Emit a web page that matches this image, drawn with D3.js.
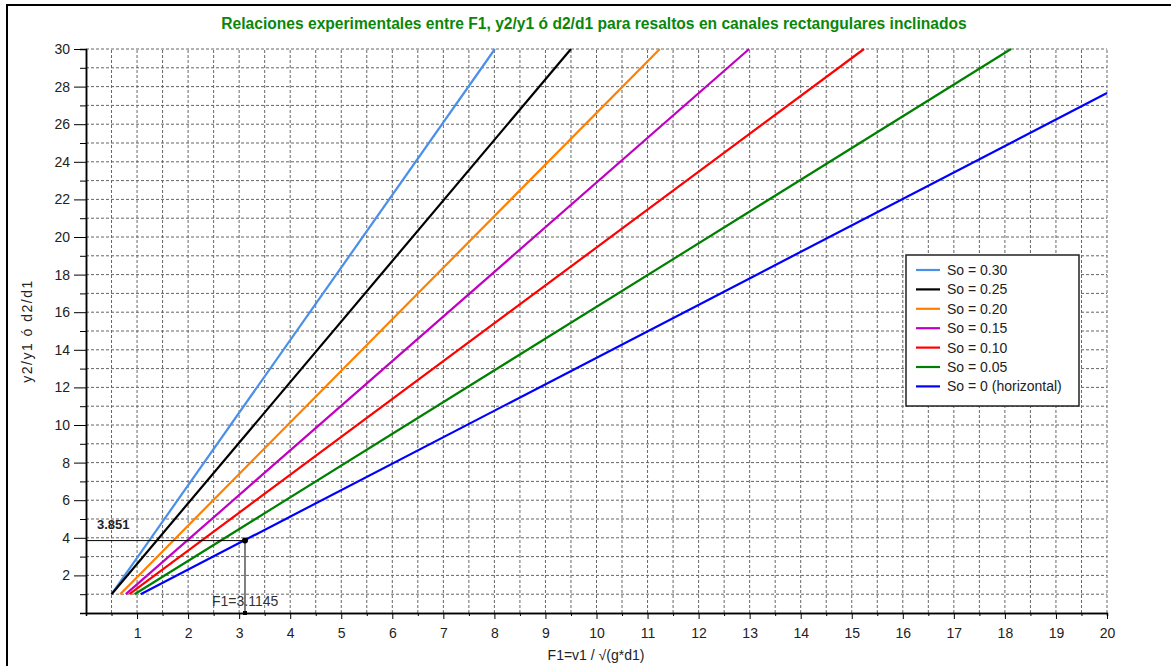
<!DOCTYPE html>
<html>
<head>
<meta charset="utf-8">
<script src="https://cdn.jsdelivr.net/npm/d3@7"></script>
<style>
  body { margin: 0; background: #fff; }
  svg text { font-family: "Liberation Sans Narrow", "Arial Narrow", "Liberation Sans", sans-serif; }
</style>
</head>
<body>
<svg id="chart"></svg>
<script>
// series: F1 start / end, y2/y1 start / end
var seriesNames = ["So = 0.30", "So = 0.25", "So = 0.20", "So = 0.15", "So = 0.10", "So = 0.05", "So = 0 (horizontal)"];
var seriesColors = ["#4a90e8", "#000000", "#ff8000", "#c000c0", "#ff0000", "#008000", "#0000ff"];
var f1Start = [0.50, 0.50, 0.67, 0.78, 0.85, 0.95, 1.07];
var f1End = [8.01, 9.50, 11.24, 12.99, 15.24, 18.12, 20.0];
var ratioStart = [1, 1, 1, 1, 1, 1, 1];
var ratioEnd = [30, 30, 30, 30, 30, 30, 27.66];
var xTicks = d3.range(1, 21);
var yTicks = d3.range(2, 31, 2);
var markF1 = 3.1145;
var markRatio = 3.851;

var screen = { width: 1171, height: 666 };
var margins = { top: 49, bottom: 53, left: 86, right: 64 };

var svg = d3.select('#chart')
  .attr('width', screen.width)
  .attr('height', screen.height);

var xScale = d3.scaleLinear().domain([0, 20]).range([margins.left, screen.width - margins.right]);
var yScale = d3.scaleLinear().domain([0, 30]).range([screen.height - margins.bottom, margins.top]);

// outer frame
svg.append('path')
  .attr('d', 'M7,' + screen.height + 'V5H' + screen.width)
  .attr('fill', 'none')
  .attr('stroke', '#000')
  .attr('stroke-width', 2);

// grid
var grid = svg.append('g');
var xGrid = d3.range(0.5, 20.01, 0.5);
var yGrid = d3.range(1, 30.01, 1);
grid.selectAll('.vg').data(xGrid).enter().append('line')
  .attr('x1', function(d) { return xScale(d); })
  .attr('x2', function(d) { return xScale(d); })
  .attr('y1', yScale(0)).attr('y2', yScale(30))
  .attr('stroke', '#666').attr('stroke-dasharray', '3,2');
grid.selectAll('.hg').data(yGrid).enter().append('line')
  .attr('y1', function(d) { return yScale(d); })
  .attr('y2', function(d) { return yScale(d); })
  .attr('x1', xScale(0)).attr('x2', xScale(20))
  .attr('stroke', '#666').attr('stroke-dasharray', '3,2');

// axes
var xAxis = d3.axisBottom(xScale).tickValues(xTicks).tickSize(6).tickSizeOuter(0).tickPadding(6);
var xMinor = d3.axisBottom(xScale).tickValues(d3.range(0.5, 20, 1)).tickSize(3).tickFormat('');
var yAxis = d3.axisLeft(yScale).tickValues(yTicks).tickSize(12).tickSizeOuter(0).tickPadding(4);
var yMinor = d3.axisLeft(yScale).tickValues(d3.range(1, 30, 2)).tickSize(6).tickFormat('');

svg.append('g').attr('transform', 'translate(0,' + yScale(0) + ')').call(xMinor);
svg.append('g').attr('transform', 'translate(' + xScale(0) + ',0)').call(yMinor);
var gx = svg.append('g').attr('transform', 'translate(0,' + yScale(0) + ')').call(xAxis);
var gy = svg.append('g').attr('transform', 'translate(' + xScale(0) + ',0)').call(yAxis);
svg.selectAll('.domain').attr('stroke', '#000').attr('stroke-width', 1.5);
svg.selectAll('.tick line').attr('stroke', '#000');
svg.selectAll('.tick text').attr('font-size', 14).attr('fill', '#222')
  .style('font-family', '"Liberation Sans Narrow", "Arial Narrow", sans-serif');
gx.selectAll('.tick text').attr('dy', '0.9em');

// lines
var lineGen = d3.line().x(function(d) { return xScale(d[0]); }).y(function(d) { return yScale(d[1]); });
seriesNames.forEach(function(name, i) {
  svg.append('path')
    .datum([[f1Start[i], ratioStart[i]], [f1End[i], ratioEnd[i]]])
    .attr('d', lineGen)
    .attr('fill', 'none')
    .attr('stroke', seriesColors[i])
    .attr('stroke-width', 2.2);
});

// marker lines
svg.append('line')
  .attr('x1', xScale(0)).attr('x2', xScale(markF1))
  .attr('y1', yScale(markRatio)).attr('y2', yScale(markRatio))
  .attr('stroke', '#000').attr('stroke-width', 1);
svg.append('line')
  .attr('x1', xScale(markF1)).attr('x2', xScale(markF1))
  .attr('y1', yScale(markRatio)).attr('y2', yScale(0))
  .attr('stroke', '#000').attr('stroke-width', 1);
svg.append('circle')
  .attr('cx', xScale(markF1)).attr('cy', yScale(markRatio)).attr('r', 3).attr('fill', '#000');
svg.append('rect')
  .attr('x', xScale(markF1) - 2).attr('y', yScale(0) - 2).attr('width', 4).attr('height', 4).attr('fill', '#000');
svg.append('text')
  .attr('x', 97).attr('y', yScale(markRatio) - 12)
  .attr('font-size', 13).attr('font-weight', 'bold').attr('fill', '#222')
  .text(markRatio);
svg.append('text')
  .attr('x', 212).attr('y', yScale(0) - 7)
  .attr('font-size', 14).attr('fill', '#333')
  .text('F1=' + markF1);

// legend
var legend = svg.append('g').attr('transform', 'translate(906,255)');
legend.append('rect')
  .attr('width', 173).attr('height', 151)
  .attr('fill', '#fff').attr('stroke', '#222').attr('stroke-width', 1.5);
seriesNames.forEach(function(name, i) {
  var ly = 15 + i * 19.4;
  legend.append('line')
    .attr('x1', 10).attr('x2', 34).attr('y1', ly).attr('y2', ly)
    .attr('stroke', seriesColors[i]).attr('stroke-width', 2.2);
  legend.append('text')
    .attr('x', 41).attr('y', ly + 5)
    .attr('font-size', 14).attr('fill', '#222')
    .text(name);
});

// titles
svg.append('text')
  .attr('x', 594).attr('y', 29)
  .attr('text-anchor', 'middle')
  .attr('font-size', 15.6).attr('font-weight', 'bold').attr('fill', '#0a870a')
  .text('Relaciones experimentales entre F1, y2/y1 ó d2/d1 para resaltos en canales rectangulares inclinados');
svg.append('text')
  .attr('x', 596).attr('y', 660)
  .attr('text-anchor', 'middle')
  .attr('font-size', 14).attr('fill', '#222')
  .text('F1=v1 / √(g*d1)');
svg.append('text')
  .attr('transform', 'translate(32,331) rotate(-90)')
  .attr('text-anchor', 'middle')
  .attr('font-size', 14).attr('fill', '#222')
  .attr('letter-spacing', 1.5)
  .text('y2/y1 ó d2/d1');
</script>
</body>
</html>
